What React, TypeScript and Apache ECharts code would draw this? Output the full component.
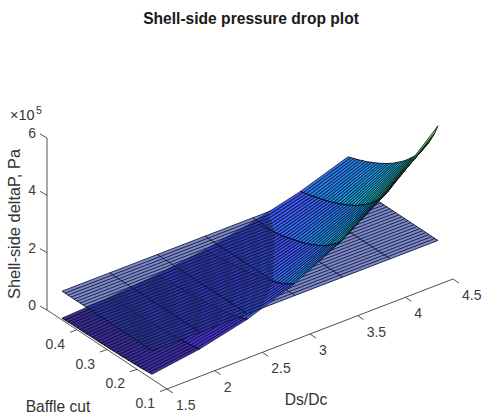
import React, { useEffect, useRef } from "react";
import * as echarts from "echarts";

const titleText = "Shell-side pressure drop plot";
const xLabel = "Ds/Dc";
const yLabel = "Baffle cut";
const zLabel = "Shell-side deltaP, Pa";
const xTicks = [1.5, 2, 2.5, 3, 3.5, 4, 4.5];
const yTicks = [0.1, 0.2, 0.3, 0.4];
const zTicks = [0, 2, 4, 6];

const dsDc = [1.5, 2, 2.5, 3, 3.5, 4, 4.5];
const baffleCut = [0.15,0.16,0.17,0.18,0.19,0.2,0.21,0.22,0.23,0.24,0.25,0.26,0.27,0.28,0.29,0.3,0.31,0.32,0.33,0.34,0.35,0.36,0.37,0.38,0.39,0.4,0.41,0.42,0.43,0.44,0.45];
const planeLevel = 1;

// pressure drop in 1e5 Pa, one list per Ds/Dc value, one entry per baffle cut
const dp15 = [.17,.16,.15,.14,.13,.13,.12,.12,.11,.11,.10,.10,.10,.09,.09,.09,.09,.08,.08,.08,.08,.08,.07,.07,.07,.07,.07,.07,.06,.06,.06];
const dp20 = [.41,.38,.36,.34,.33,.31,.30,.29,.27,.26,.25,.25,.24,.23,.22,.22,.21,.20,.20,.19,.19,.18,.18,.17,.17,.17,.16,.16,.16,.15,.15];
const dp25 = [.81,.76,.72,.68,.65,.62,.59,.57,.55,.53,.51,.49,.47,.46,.44,.43,.42,.41,.40,.38,.38,.37,.36,.35,.34,.33,.33,.32,.31,.31,.30];
const dp30 = [1.42,1.33,1.26,1.20,1.14,1.09,1.04,1.00,.96,.93,.89,.86,.83,.81,.78,.76,.74,.71,.70,.68,.66,.64,.63,.61,.60,.59,.57,.56,.55,.54,.53];
const dp35 = [2.30,2.15,2.04,1.94,1.85,1.76,1.68,1.62,1.55,1.50,1.44,1.39,1.34,1.30,1.26,1.22,1.19,1.15,1.12,1.09,1.06,1.04,1.01,.99,.96,.95,.92,.90,.89,.87,.85];
const dp40 = [3.47,3.25,3.08,2.93,2.79,2.66,2.55,2.44,2.35,2.26,2.18,2.10,2.03,1.97,1.91,1.85,1.80,1.74,1.70,1.65,1.61,1.57,1.53,1.49,1.46,1.43,1.39,1.37,1.34,1.31,1.28];
const dp45 = [5.00,4.69,4.44,4.22,4.02,3.84,3.67,3.52,3.38,3.26,3.14,3.03,2.93,2.84,2.75,2.66,2.59,2.51,2.45,2.38,2.32,2.26,2.21,2.15,2.10,2.06,2.01,1.97,1.93,1.89,1.85];
const dpColumns = [dp15, dp20, dp25, dp30, dp35, dp40, dp45];

const colorRamp: number[][] = [
  [53, 42, 135], [66, 50, 205], [60, 90, 245], [35, 130, 235], [20, 160, 215],
  [20, 180, 190], [50, 190, 150], [100, 195, 100], [150, 200, 70],
];
const colorLimit = 5.6;

type P3 = [number, number, number];

function screen(p: P3): number[] {
  const [x, y, z] = p;
  return [
    167 + 95.33 * (x - 1.5) - 300 * (y - 0.1),
    389 - 36.67 * (x - 1.5) - 197.5 * (y - 0.1) - 28.67 * z,
  ];
}

function colorOf(z: number): string {
  const t = Math.max(0, Math.min(1, z / colorLimit)) * (colorRamp.length - 1);
  const a = Math.min(colorRamp.length - 2, Math.floor(t));
  const f = t - a;
  const c = colorRamp[a].map((v, k) => Math.round(v + (colorRamp[a + 1][k] - v) * f));
  return `rgb(${c[0]},${c[1]},${c[2]})`;
}

function crossing(a: P3, b: P3): P3 {
  const f = (planeLevel - a[2]) / (b[2] - a[2]);
  return [a[0] + (b[0] - a[0]) * f, a[1] + (b[1] - a[1]) * f, planeLevel];
}

function clipPolygon(pts: P3[], above: boolean): P3[] {
  const inside = (p: P3) => (above ? p[2] >= planeLevel : p[2] <= planeLevel);
  const out: P3[] = [];
  pts.forEach((p, k) => {
    const q = pts[(k + 1) % pts.length];
    if (inside(p)) out.push(p);
    if (inside(p) !== inside(q)) out.push(crossing(p, q));
  });
  return out;
}

function clipSegment(a: P3, b: P3, above: boolean): P3[] | null {
  const inside = (p: P3) => (above ? p[2] >= planeLevel : p[2] <= planeLevel);
  if (inside(a) && inside(b)) return [a, b];
  if (!inside(a) && !inside(b)) return null;
  const c = crossing(a, b);
  return inside(a) ? [a, c] : [c, b];
}

// cells from the back of the scene to the front
const cells: number[][] = [];
for (let i = dsDc.length - 2; i >= 0; i--) {
  for (let j = baffleCut.length - 2; j >= 0; j--) cells.push([i, j]);
}

function surfaceLayer(above: boolean) {
  return {
    type: "custom",
    coordinateSystem: "cartesian2d",
    silent: true,
    clip: false,
    data: cells,
    renderItem: (params: any, api: any) => {
      const i = api.value(0);
      const j = api.value(1);
      const v = (a: number, b: number): P3 => [dsDc[a], baffleCut[b], dpColumns[a][b]];
      const p00 = v(i, j), p10 = v(i + 1, j), p11 = v(i + 1, j + 1), p01 = v(i, j + 1);
      const toPx = (p: P3) => api.coord(screen(p));
      const children: any[] = [];
      const poly = clipPolygon([p00, p10, p11, p01], above);
      if (poly.length >= 3) {
        children.push({
          type: "polygon",
          shape: { points: poly.map(toPx) },
          style: { fill: colorOf(p10[2]), stroke: null },
        });
      }
      const edges: P3[][] = [[p00, p10], [p01, p11], [p10, p11], [p00, p01]];
      edges.forEach(([a, b], k) => {
        const seg = clipSegment(a, b, above);
        if (!seg) return;
        const s0 = toPx(seg[0]);
        const s1 = toPx(seg[1]);
        children.push({
          type: "line",
          shape: { x1: s0[0], y1: s0[1], x2: s1[0], y2: s1[1] },
          style: { stroke: "#000", lineWidth: k < 2 ? 0.9 : 0.9, opacity: k < 2 ? 0.75 : 0.9 },
        });
      });
      return { type: "group", children };
    },
  };
}

const planeParts = [
  ...baffleCut.map((_, j) => [0, j]),
  ...dsDc.map((_, i) => [1, i]),
];

const planeFill = {
  type: "custom",
  coordinateSystem: "cartesian2d",
  silent: true,
  clip: false,
  data: [[0]],
  renderItem: (params: any, api: any) => {
    const a = dsDc[0], b = dsDc[dsDc.length - 1];
    const c = baffleCut[0], d = baffleCut[baffleCut.length - 1];
    const pts: P3[] = [[a, c, planeLevel], [b, c, planeLevel], [b, d, planeLevel], [a, d, planeLevel]];
    return {
      type: "polygon",
      shape: { points: pts.map((p) => api.coord(screen(p))) },
      style: { fill: "rgba(40,60,160,0.6)", stroke: null },
    };
  },
};

const planeLines = {
  type: "custom",
  coordinateSystem: "cartesian2d",
  silent: true,
  clip: false,
  data: planeParts,
  renderItem: (params: any, api: any) => {
    const kind = api.value(0);
    const k = api.value(1);
    const a: P3 = kind === 0 ? [dsDc[0], baffleCut[k], planeLevel] : [dsDc[k], baffleCut[0], planeLevel];
    const b: P3 = kind === 0
      ? [dsDc[dsDc.length - 1], baffleCut[k], planeLevel]
      : [dsDc[k], baffleCut[baffleCut.length - 1], planeLevel];
    const s0 = api.coord(screen(a));
    const s1 = api.coord(screen(b));
    return {
      type: "line",
      shape: { x1: s0[0], y1: s0[1], x2: s1[0], y2: s1[1] },
      style: { stroke: "#0a0f30", lineWidth: 1, opacity: 0.85 },
    };
  },
};

const axisColor = "#404040";
const tickFont = { fontFamily: "Liberation Sans, Arial, sans-serif", fontSize: 14, fill: "#3c3c3c" };

const axesSeries = {
  type: "custom",
  coordinateSystem: "cartesian2d",
  silent: true,
  clip: false,
  data: [
    ...xTicks.map((t) => [0, t]),
    ...yTicks.map((t) => [1, t]),
    ...zTicks.map((t) => [2, t]),
    [3, 0.5],
  ],
  renderItem: (params: any, api: any) => {
    const kind = api.value(0);
    const t = api.value(1);
    const seg = (p: number[], q: number[]) => {
      const s0 = api.coord(p);
      const s1 = api.coord(q);
      return {
        type: "line",
        shape: { x1: s0[0], y1: s0[1], x2: s1[0], y2: s1[1] },
        style: { stroke: axisColor, lineWidth: 0.9 },
      };
    };
    const label = (p: number[], text: string, align: string) => {
      const s = api.coord(p);
      return {
        type: "text",
        x: s[0],
        y: s[1],
        style: { text, align, verticalAlign: "middle", ...tickFont },
      };
    };
    if (kind === 0) {
      const p = screen([t, 0.1, 0]);
      return {
        type: "group",
        children: [
          seg(p, [p[0] + 6, p[1] + 4]),
          label([p[0] + 9, p[1] + 16], String(t), "left"),
        ],
      };
    }
    if (kind === 1) {
      const p = screen([1.5, t, 0]);
      return {
        type: "group",
        children: [
          seg(p, [p[0] - 7, p[1] + 2.5]),
          label([p[0] - 12, p[1] + 14], t.toFixed(1), "right"),
        ],
      };
    }
    if (kind === 2) {
      const p = screen([1.5, 0.5, t]);
      return {
        type: "group",
        children: [
          seg(p, [p[0] - 7, p[1] - 4]),
          label([36, p[1] - 5], String(t), "right"),
        ],
      };
    }
    const a = screen([1.5, 0.1, 0]);
    const b = screen([4.5, 0.1, 0]);
    const c = screen([1.5, t, 0]);
    const d = screen([1.5, t, 6]);
    return { type: "group", children: [seg(a, b), seg(a, c), seg(c, d)] };
  },
};

const textStyle = { fontFamily: "Liberation Sans, Arial, sans-serif", fill: "#333" };

export default function App() {
  const ref = useRef<HTMLDivElement>(null);
  useEffect(() => {
    document.body.style.margin = "0";
    const chart = echarts.init(ref.current!, null, { renderer: "svg" });
    chart.setOption({
      animation: false,
      backgroundColor: "#fff",
      grid: { left: 0, right: 0, top: 0, bottom: 0 },
      xAxis: { type: "value", min: 0, max: 482, show: false },
      yAxis: { type: "value", min: 0, max: 416, inverse: true, show: false },
      graphic: [
        { type: "text", x: 251, y: 18, style: { text: titleText, align: "center", verticalAlign: "middle", fontSize: 15.6, fontWeight: "bold", fontFamily: "Liberation Sans, Arial, sans-serif", fill: "#1a1a1a" } },
        { type: "text", x: 13.5, y: 224, rotation: Math.PI / 2, style: { text: zLabel, align: "center", verticalAlign: "middle", fontSize: 16.4, ...textStyle } },
        { type: "text", x: 58, y: 406, style: { text: yLabel, align: "center", verticalAlign: "middle", fontSize: 15.6, ...textStyle } },
        { type: "text", x: 306, y: 399, style: { text: xLabel, align: "center", verticalAlign: "middle", fontSize: 15.6, ...textStyle } },
        { type: "text", x: 10, y: 115, style: { text: "×10", align: "left", verticalAlign: "middle", fontSize: 14.5, ...textStyle } },
        { type: "text", x: 36, y: 110, style: { text: "5", align: "left", verticalAlign: "middle", fontSize: 10.5, ...textStyle } },
      ],
      series: [axesSeries, surfaceLayer(false), planeFill, planeLines, surfaceLayer(true)],
    });
    return () => chart.dispose();
  }, []);
  return <div ref={ref} style={{ width: 482, height: 416 }} />;
}
